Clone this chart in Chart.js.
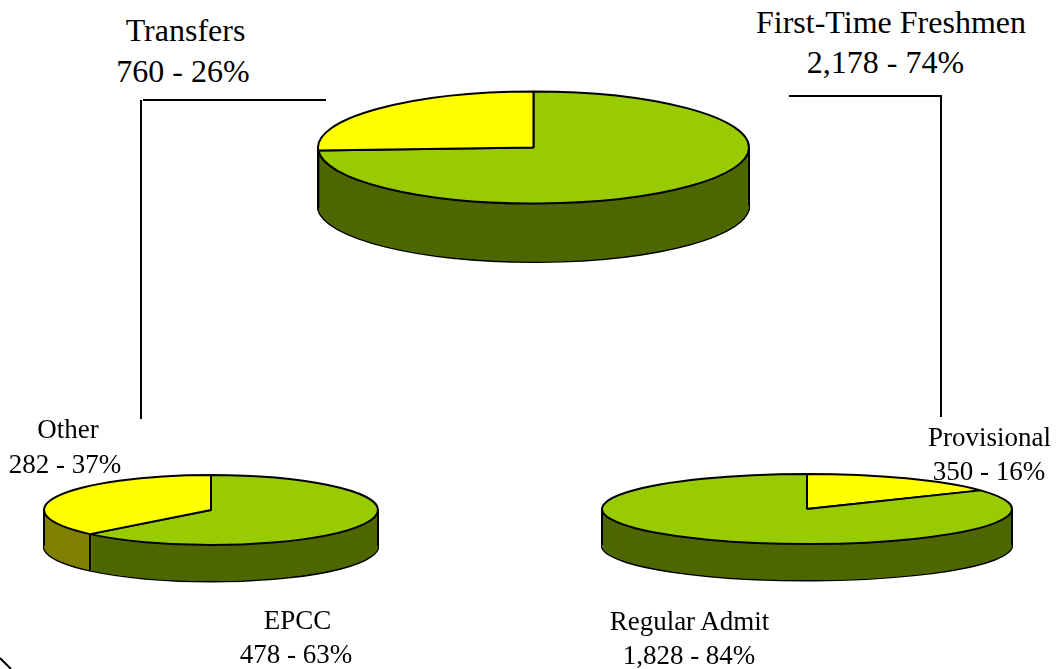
<!DOCTYPE html>
<html>
<head>
<meta charset="utf-8">
<script src="https://cdn.jsdelivr.net/npm/chart.js@4/dist/chart.umd.min.js"></script>
<style>
html, body { margin: 0; padding: 0; background: #fff; }
#page { position: relative; width: 1056px; height: 669px; overflow: hidden; background: #fff; }
canvas { position: absolute; }
.rule { position: absolute; background: #000; }
.lbl { position: absolute; font-family: "Liberation Serif", serif; color: #000; text-align: center; white-space: nowrap; transform: translateX(-50%); }
.big { font-size: 32px; line-height: 40px; }
.small { font-size: 27px; line-height: 34px; }
</style>
</head>
<body>
<div id="page">
  <canvas id="allPie"></canvas>
  <canvas id="transferPie"></canvas>
  <canvas id="freshmenPie"></canvas>

  <div class="rule" style="left:143px;top:99px;width:183px;height:2px"></div>
  <div class="rule" style="left:140px;top:100px;width:2px;height:319px"></div>
  <div class="rule" style="left:789px;top:95px;width:153px;height:2px"></div>
  <div class="rule" style="left:940px;top:96px;width:2px;height:321px"></div>
  <svg style="position:absolute;left:0;top:640px" width="40" height="29"><path d="M0 18 L11 29" stroke="#000" stroke-width="2" fill="none"/></svg>

  <div class="lbl big" style="left:185.5px;top:10px">Transfers</div>
  <div class="lbl big" style="left:183px;top:51px">760 - 26%</div>
  <div class="lbl big" style="left:891px;top:2px">First-Time Freshmen</div>
  <div class="lbl big" style="left:885.5px;top:42px">2,178 - 74%</div>
  <div class="lbl small" style="left:68px;top:411.5px">Other</div>
  <div class="lbl small" style="left:65px;top:446.5px">282 - 37%</div>
  <div class="lbl small" style="left:297.5px;top:602.5px">EPCC</div>
  <div class="lbl small" style="left:296px;top:636.5px">478 - 63%</div>
  <div class="lbl small" style="left:989.5px;top:419.5px">Provisional</div>
  <div class="lbl small" style="left:989px;top:453.5px">350 - 16%</div>
  <div class="lbl small" style="left:689.5px;top:603.5px">Regular Admit</div>
  <div class="lbl small" style="left:689px;top:637.5px">1,828 - 84%</div>
</div>

<script>
// values as labelled on the picture
var allLabels = ['First-Time Freshmen', 'Transfers'];
var allValues = [2178, 760];
var transferLabels = ['EPCC', 'Other'];
var transferValues = [478, 282];
var freshmenLabels = ['Provisional', 'Regular Admit'];
var freshmenValues = [350, 1828];

var green = '#99CC00', greenSide = '#4D6600';
var yellow = '#FFFF00', yellowSide = '#808000';

// squashes the round pie to an ellipse and stacks darker copies under it for the side
var pie3d = {
  id: 'pie3d',
  beforeDatasetsDraw: function (chart, args, opts) {
    var ctx = chart.ctx;
    var arcs = chart.getDatasetMeta(0).data;
    var cx = arcs[0].x, cy = arcs[0].y, r = arcs[0].outerRadius;
    var k = opts.ry / r, depth = opts.depth;
    var dpr = chart.currentDevicePixelRatio;

    // keep the outline even: stroke with no squash on the pen
    var stroke = ctx.stroke;
    ctx.stroke = function () {
      ctx.save();
      ctx.setTransform(dpr, 0, 0, dpr, 0, 0);
      stroke.call(ctx);
      ctx.restore();
    };
    chart.$stroke = stroke;

    function squash(d) {
      ctx.translate(cx, cy + d);
      ctx.scale(1, k);
      ctx.translate(-cx, -cy);
    }

    function drawLayer(i, arc, width) {
      var o = arc.options;
      var side = Object.create(o);
      side.backgroundColor = opts.sideColors[i];
      side.borderWidth = width;
      arc.options = side;
      arc.draw(ctx);
      arc.options = o;
    }

    // front to back, so the black rim only shows outside the side
    ctx.save();
    ctx.globalCompositeOperation = 'destination-over';
    for (var d = 1; d <= depth; d++) {
      ctx.save();
      squash(d);
      arcs.forEach(function (arc, i) {
        drawLayer(i, arc, 0);
      });
      ctx.restore();
    }
    ctx.save();
    squash(depth);
    arcs.forEach(function (arc, i) {
      drawLayer(i, arc, 3);
    });
    ctx.restore();
    ctx.restore();

    // vertical edges of the side
    ctx.save();
    ctx.strokeStyle = '#000';
    ctx.lineWidth = 2;
    var edges = [0, Math.PI];
    arcs.forEach(function (arc) {
      if (Math.sin(arc.startAngle) > 0) edges.push(arc.startAngle);
    });
    edges.forEach(function (a) {
      var x = cx + r * Math.cos(a), y = cy + opts.ry * Math.sin(a);
      ctx.beginPath();
      ctx.moveTo(x, y);
      ctx.lineTo(x, y + depth);
      ctx.stroke();
    });
    ctx.restore();

    ctx.save();
    squash(0);
  },
  afterDatasetsDraw: function (chart) {
    chart.ctx.restore();
    chart.ctx.stroke = chart.$stroke;
  }
};

function makePie(id, labels, values, colors, sides, cx, cy, rx, ry, depth) {
  var size = 2 * rx + 2;
  var el = document.getElementById(id);
  el.width = size;
  el.height = size;
  el.style.left = (cx - size / 2) + 'px';
  el.style.top = (cy - size / 2) + 'px';
  return new Chart(el.getContext('2d'), {
    type: 'pie',
    plugins: [pie3d],
    data: {
      labels: labels,
      datasets: [{
        data: values,
        backgroundColor: colors,
        borderColor: '#000',
        borderWidth: 2,
        hoverOffset: 0
      }]
    },
    options: {
      responsive: false,
      animation: false,
      events: [],
      layout: { padding: 0 },
      plugins: {
        legend: { display: false },
        tooltip: { enabled: false },
        pie3d: { ry: ry, depth: depth, sideColors: sides }
      }
    }
  });
}

makePie('allPie', allLabels, allValues, [green, yellow], [greenSide, yellowSide], 533.5, 147, 215.5, 56, 58);
makePie('transferPie', transferLabels, transferValues, [green, yellow], [greenSide, yellowSide], 211, 510, 167, 35, 36);
makePie('freshmenPie', freshmenLabels, freshmenValues, [yellow, green], [yellowSide, greenSide], 807, 509, 205, 35, 36);
</script>
</body>
</html>
